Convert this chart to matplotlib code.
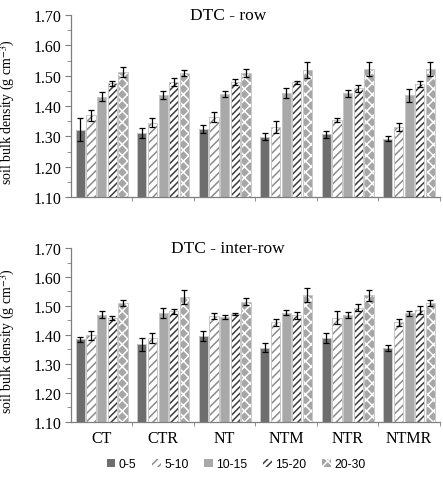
import numpy as np
import matplotlib
matplotlib.use("Agg")
import matplotlib.pyplot as plt
from matplotlib.patches import Patch

plt.rcParams['font.family'] = ['Liberation Serif', 'DejaVu Serif']
plt.rcParams['mathtext.fontset'] = 'stix'
plt.rcParams['hatch.linewidth'] = 1.1

# data
systems = ['CT', 'CTR', 'NT', 'NTM', 'NTR', 'NTMR']
depths = ['0-5', '5-10', '10-15', '15-20', '20-30']

# DTC - row : one list per depth, values per system
row_mean = [
    [1.322, 1.310, 1.324, 1.299, 1.307, 1.292],
    [1.370, 1.345, 1.363, 1.331, 1.354, 1.331],
    [1.431, 1.436, 1.440, 1.443, 1.442, 1.435],
    [1.475, 1.479, 1.479, 1.478, 1.458, 1.473],
    [1.512, 1.508, 1.509, 1.518, 1.521, 1.522],
]
row_err = [
    [0.037, 0.016, 0.012, 0.012, 0.012, 0.008],
    [0.018, 0.014, 0.017, 0.020, 0.005, 0.013],
    [0.014, 0.014, 0.011, 0.018, 0.011, 0.021],
    [0.009, 0.012, 0.009, 0.005, 0.010, 0.010],
    [0.017, 0.010, 0.014, 0.026, 0.023, 0.024],
]

# DTC - inter-row
inter_mean = [
    [1.385, 1.368, 1.396, 1.356, 1.389, 1.355],
    [1.398, 1.388, 1.466, 1.444, 1.459, 1.444],
    [1.470, 1.476, 1.462, 1.476, 1.470, 1.474],
    [1.458, 1.481, 1.472, 1.468, 1.493, 1.486],
    [1.510, 1.531, 1.514, 1.537, 1.537, 1.510],
]
inter_err = [
    [0.009, 0.022, 0.016, 0.016, 0.016, 0.009],
    [0.017, 0.017, 0.010, 0.012, 0.023, 0.012],
    [0.011, 0.018, 0.008, 0.009, 0.010, 0.010],
    [0.008, 0.009, 0.005, 0.012, 0.012, 0.015],
    [0.009, 0.024, 0.012, 0.025, 0.019, 0.011],
]

# look of each depth: facecolor, hatch colour, hatch
styles = [
    ('#6e6e6e', '#6e6e6e', None),
    ('white', '#8c8c8c', '////'),
    ('#a9a9a9', '#a9a9a9', None),
    ('white', '#3c3c3c', '/////'),
    ('#a6a6a6', 'white', 'xxx'),
]


def draw_panel(ax, means, errs, title, labels):
    x = np.arange(len(systems))
    slot = 0.173
    w = 0.15
    for k in range(len(depths)):
        fc, hc, h = styles[k]
        pos = x + (k - 2) * slot
        ax.bar(pos, means[k], w, color=fc, edgecolor=hc, hatch=h, linewidth=0.0, zorder=2)
        # thin light outline
        ax.bar(pos, means[k], w, fill=False, edgecolor='#c8c8c8', linewidth=0.7, zorder=3)
        ax.errorbar(pos, means[k], yerr=errs[k], fmt='none', ecolor='black',
                    elinewidth=0.9, capsize=2.3, capthick=0.9, zorder=4)
    ax.set_xlim(-0.5, 5.5)
    ax.set_ylim(1.10, 1.70)
    ax.set_yticks(np.arange(1.10, 1.71, 0.10))
    ax.set_yticklabels(['%.2f' % v for v in np.arange(1.10, 1.71, 0.10)], fontsize=11.5)
    ax.set_yticks(np.arange(1.15, 1.70, 0.10), minor=True)
    ax.set_xticks(x)
    if labels:
        ax.set_xticklabels(systems, fontsize=11.5)
    else:
        ax.set_xticklabels([])
    ax.set_xticks(np.arange(0.5, 6.0, 1.0), minor=True)
    ax.tick_params(axis='x', which='major', length=0, pad=6)
    ax.tick_params(axis='x', which='minor', length=3, color='#7f7f7f')
    ax.tick_params(axis='y', which='major', length=4, pad=2.5, color='#7f7f7f')
    ax.tick_params(axis='y', which='minor', length=3, color='#7f7f7f')
    for s in ['top', 'right']:
        ax.spines[s].set_visible(False)
    for s in ['left', 'bottom']:
        ax.spines[s].set_color('#7f7f7f')
        ax.spines[s].set_linewidth(0.9)
    ax.set_ylabel('soil bulk density (g cm$^{-3}$)', fontsize=10)
    ax.yaxis.set_label_coords(-0.146, 0.47)
    ax.text(0.425, 1.0, title, transform=ax.transAxes, ha='center', va='center', fontsize=12.5)


fig = plt.figure(figsize=(4.43, 4.81), dpi=100)
ax1 = fig.add_axes([0.160, 0.5884, 0.833, 0.378])
ax2 = fig.add_axes([0.160, 0.1212, 0.833, 0.361])

draw_panel(ax1, row_mean, row_err, 'DTC - row', False)
draw_panel(ax2, inter_mean, inter_err, 'DTC - inter-row', True)

handles = []
for k in range(len(depths)):
    fc, hc, h = styles[k]
    handles.append(Patch(facecolor=fc, edgecolor=hc, hatch=h, linewidth=0.0, label=depths[k]))
fig.legend(handles=handles, loc='center', bbox_to_anchor=(0.533, 0.033), ncol=5, frameon=False,
           handlelength=0.7, handleheight=0.7, handletextpad=0.3, columnspacing=1.3,
           prop={'family': 'Liberation Sans', 'size': 8.7})

fig.savefig('out.png', dpi=100)
